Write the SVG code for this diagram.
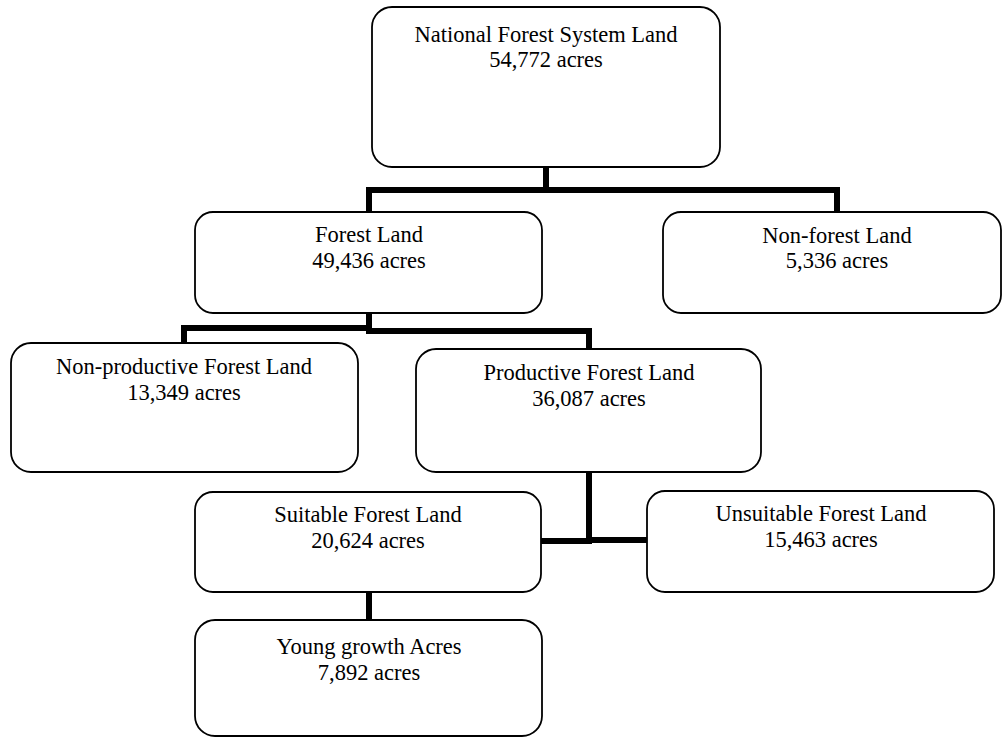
<svg xmlns="http://www.w3.org/2000/svg" width="1003" height="738" viewBox="0 0 1003 738">
<style>
.box{fill:#fff;stroke:#000;stroke-width:1.8}
.t{font-family:"Liberation Serif","Times New Roman",serif;font-size:22.5px;fill:#000;text-anchor:middle}
.c{fill:none;stroke:#000;stroke-width:6;stroke-linejoin:miter;stroke-linecap:square}
</style>
<rect width="1003" height="738" fill="#fff"/>
<g id="connectors">
<path class="c" d="M546 170 V190"/>
<path class="c" d="M369 209 V190 H837 V209"/>
<path class="c" d="M369 316 V330"/>
<path class="c" d="M184 340 V328 H369"/>
<path class="c" d="M369 331 H589 V346"/>
<path class="c" d="M589 475 V540"/>
<path class="c" d="M544 541 H589"/>
<path class="c" d="M589 540 H644"/>
<path class="c" d="M369 595 V617"/>
</g>
<g id="n1"><rect class="box" x="372" y="7" width="348" height="160" rx="20"/>
<text class="t" x="546" y="42">National Forest System Land</text>
<text class="t" x="546" y="67">54,772 acres</text></g>
<g id="n2"><rect class="box" x="195" y="212" width="347" height="101" rx="18"/>
<text class="t" x="369" y="242">Forest Land</text>
<text class="t" x="369" y="268">49,436 acres</text></g>
<g id="n3"><rect class="box" x="663" y="212" width="338" height="101" rx="18"/>
<text class="t" x="837" y="243">Non-forest Land</text>
<text class="t" x="837" y="268">5,336 acres</text></g>
<g id="n4"><rect class="box" x="11" y="343" width="347" height="129" rx="20"/>
<text class="t" x="184" y="374">Non-productive Forest Land</text>
<text class="t" x="184" y="400">13,349 acres</text></g>
<g id="n5"><rect class="box" x="416" y="349" width="345" height="123" rx="20"/>
<text class="t" x="589" y="380">Productive Forest Land</text>
<text class="t" x="589" y="406">36,087 acres</text></g>
<g id="n6"><rect class="box" x="195" y="492" width="346" height="100" rx="18"/>
<text class="t" x="368" y="522">Suitable Forest Land</text>
<text class="t" x="368" y="548">20,624 acres</text></g>
<g id="n7"><rect class="box" x="647" y="491" width="347" height="101" rx="18"/>
<text class="t" x="821" y="521">Unsuitable Forest Land</text>
<text class="t" x="821" y="547">15,463 acres</text></g>
<g id="n8"><rect class="box" x="195" y="620" width="347" height="116" rx="20"/>
<text class="t" x="369" y="654">Young growth Acres</text>
<text class="t" x="369" y="680">7,892 acres</text></g>
</svg>
